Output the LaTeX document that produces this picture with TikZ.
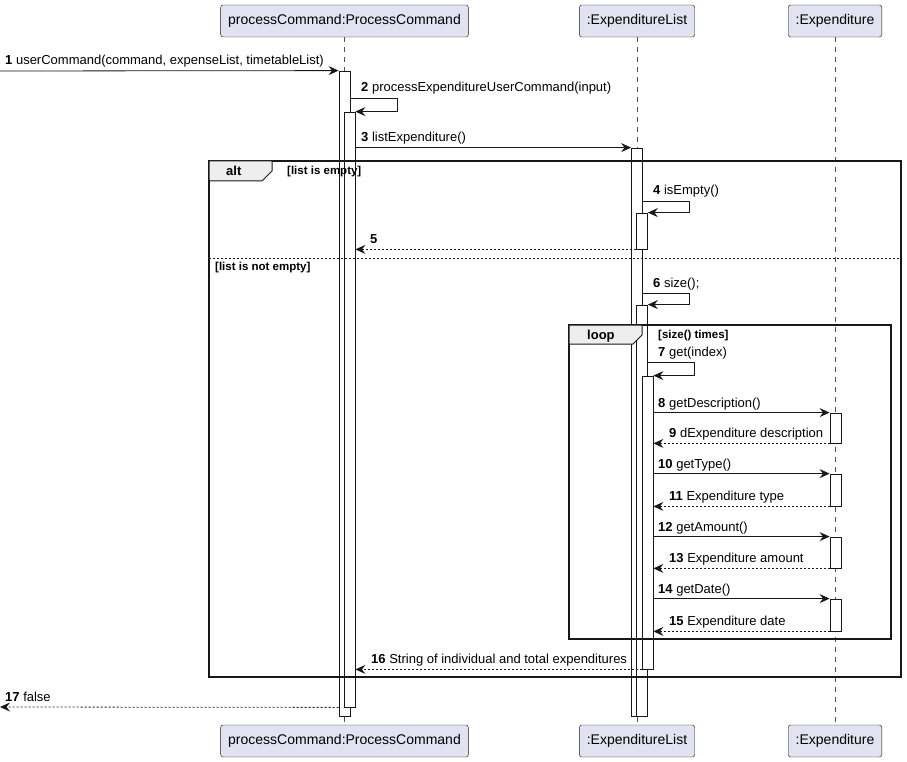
\documentclass[tikz,border=0pt]{standalone}
\usepackage{fontspec}
\setmainfont{Liberation Sans}
\usetikzlibrary{arrows.meta}
\definecolor{ink}{HTML}{181818}
\definecolor{boxfill}{HTML}{E2E2F0}
\definecolor{tabfill}{HTML}{EEEEEE}

\tikzset{
  part/.style={draw=ink,fill=boxfill,rounded corners=2.5pt,minimum height=32pt,inner xsep=7.5pt,font=\fontsize{14}{16}\selectfont},
  life/.style={draw=ink!75,line width=.5pt,dash pattern=on 5pt off 5pt},
  act/.style={draw=ink,fill=white,line width=.8pt,minimum width=11pt,inner sep=0pt},
  msg/.style={draw=ink,line width=.8pt,-{Stealth[length=10pt,width=9pt,inset=3.5pt]}},
  ret/.style={msg,dash pattern=on 2pt off 2pt},
  txt/.style={anchor=base west,inner sep=0pt,font=\fontsize{13}{15}\selectfont},
  cond/.style={anchor=base west,inner sep=0pt,font=\fontsize{11.5}{13}\selectfont\bfseries},
  frm/.style={draw=ink,line width=1.5pt},
  tabbox/.style={draw=ink,fill=tabfill,line width=1pt},
}

\begin{document}
\begin{tikzpicture}[x=1pt,y=-1pt]
\useasboundingbox (0,0) rectangle (907,762);

% participants, top and bottom
\node[part] (pc) at (344.5,21) {processCommand:ProcessCommand};
\node[part] (el) at (637,21) {:ExpenditureList};
\node[part] (ex) at (835,21) {:Expenditure};
\node[part] (pcb) at (344.5,741) {processCommand:ProcessCommand};
\node[part] (elb) at (637,741) {:ExpenditureList};
\node[part] (exb) at (835,741) {:Expenditure};

\draw[life] (pc) -- (pcb);
\draw[life] (el) -- (elb);
\draw[life] (ex) -- (exb);

% activation bars
\node[act,minimum height=645pt] (pcA) at (344.5,393.5) {};
\node[act,minimum height=595pt] (pcB) at (349.5,409.5) {};
\node[act,minimum height=568pt] (elA) at (637,432) {};
\node[act,minimum height=36pt] (elB) at (642,231) {};
\node[act,minimum height=411pt] (elC) at (642,510.5) {};
\node[act,minimum height=293pt] (elD) at (647.5,522.5) {};
\node[act,minimum height=30pt] (exA) at (835.5,428) {};
\node[act,minimum height=32pt] (exB) at (835.5,490) {};
\node[act,minimum height=31pt] (exC) at (835.5,552.5) {};
\node[act,minimum height=32pt] (exD) at (835.5,615) {};

% alt and loop frames
\draw[frm] (209,161) rectangle (901,677);
\draw[tabbox] (209,161) -- (272,161) -- (272,171) -- (262,181) -- (209,181) -- cycle;
\draw[draw=ink,line width=.8pt,dash pattern=on 2pt off 2pt] (209,258) -- (901,258);
\draw[frm] (569,325) rectangle (891,639);
\draw[tabbox] (569,325) -- (642,325) -- (642,335) -- (633,344) -- (569,344) -- cycle;

% messages
\coordinate (in1) at (0,71);
\coordinate (s2) at (397,98);
\coordinate (s4) at (689,201);
\coordinate (s6) at (689,293);
\coordinate (s7) at (694,362);
\coordinate (out17) at (0,707);

\draw[msg] (in1) -- (pcA.north west);
\draw[msg] (pcA.east |- s2) -- (s2) |- (pcB.north east);
\draw[msg] (pcB.east |- elA.north) -- (elA.north west);
\draw[msg] (elA.east |- s4) -- (s4) |- (elB.north east);
\draw[ret] (elB.south west) -- (pcB.east |- elB.south);
\draw[msg] (elA.east |- s6) -- (s6) |- (elC.north east);
\draw[msg] (elC.east |- s7) -- (s7) |- (elD.north east);
\draw[msg] (elD.east |- exA.north) -- (exA.north west);
\draw[ret] (exA.south west) -- (elD.east |- exA.south);
\draw[msg] (elD.east |- exB.north) -- (exB.north west);
\draw[ret] (exB.south west) -- (elD.east |- exB.south);
\draw[msg] (elD.east |- exC.north) -- (exC.north west);
\draw[ret] (exC.south west) -- (elD.east |- exC.south);
\draw[msg] (elD.east |- exD.north) -- (exD.north west);
\draw[ret] (exD.south west) -- (elD.east |- exD.south);
\draw[ret] (elD.south west) -- (pcB.east |- elD.south);
\draw[ret] (pcA.west |- pcB.south) -- (out17);

% labels
\node[txt] (t1) at (5,65) {\textbf{1} userCommand(command, expenseList, timetableList)};
\node[txt] (t2) at (361,92) {\textbf{2} processExpenditureUserCommand(input)};
\node[txt] (t3) at (361,142) {\textbf{3} listExpenditure()};
\node[txt] (t4) at (653,195) {\textbf{4} isEmpty()};
\node[txt] (t5) at (370,243) {\textbf{5}};
\node[txt] (t6) at (653,287) {\textbf{6} size();};
\node[txt] (t7) at (658,356) {\textbf{7} get(index)};
\node[txt] (t8) at (658,407) {\textbf{8} getDescription()};
\node[txt] (t9) at (669,437) {\textbf{9} dExpenditure description};
\node[txt] (t10) at (658,468) {\textbf{10} getType()};
\node[txt] (t11) at (669,500) {\textbf{11} Expenditure type};
\node[txt] (t12) at (658,531) {\textbf{12} getAmount()};
\node[txt] (t13) at (669,562) {\textbf{13} Expenditure amount};
\node[txt] (t14) at (658,593) {\textbf{14} getDate()};
\node[txt] (t15) at (669,625) {\textbf{15} Expenditure date};
\node[txt] (t16) at (371,663) {\textbf{16} String of individual and total expenditures};
\node[txt] (t17) at (5,701) {\textbf{17} false};

\node[txt,font=\fontsize{13}{15}\selectfont\bfseries] (altlbl) at (226,176) {alt};
\node[cond] (c1) at (287,175) {[list is empty]};
\node[cond] (c2) at (215,270) {[list is not empty]};
\node[txt,font=\fontsize{13}{15}\selectfont\bfseries] (looplbl) at (587,339) {loop};
\node[cond] (c3) at (658,338) {[size() times]};
\end{tikzpicture}
\end{document}
